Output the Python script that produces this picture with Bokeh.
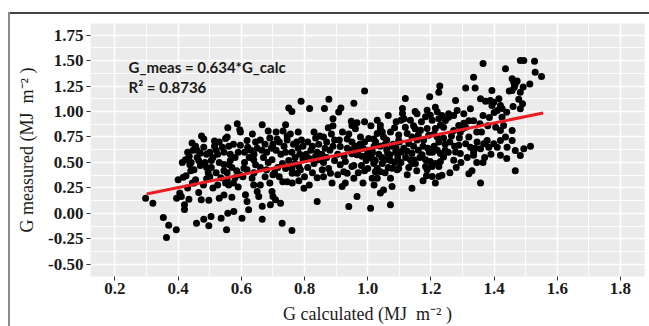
from bokeh.plotting import figure
from bokeh.models import FixedTicker, NumeralTickFormatter, Label, Range1d, Div, Spacer
from bokeh.layouts import column, row
from bokeh.embed import file_html
from bokeh.resources import INLINE

# ---- data (G calculated vs G measured, MJ m^-2) ----
g_calc = [
    0.297, 0.32, 0.353, 0.37, 0.363, 0.394, 0.395, 0.40,
    0.405, 0.41, 0.416, 0.423, 0.437, 0.441, 0.42, 0.42, 0.434, 0.444, 0.43, 0.425, 0.445, 0.435, 0.44, 0.43, 0.447, 0.413,
    0.45, 0.45, 0.455, 0.465, 0.458, 0.481, 0.497, 0.473, 0.497, 0.474, 0.481, 0.49, 0.481, 0.46, 0.47, 0.49, 0.485, 0.47, 0.46, 0.495, 0.49, 0.48, 0.455, 0.465, 0.50, 0.50,
    0.504, 0.53, 0.545, 0.536, 0.51, 0.52, 0.515, 0.53, 0.525, 0.54, 0.545, 0.505, 0.52, 0.535, 0.55, 0.51, 0.525, 0.545, 0.55, 0.515, 0.505, 0.53, 0.545,
    0.557, 0.553, 0.576, 0.557, 0.587, 0.595, 0.555, 0.56, 0.575, 0.597, 0.565, 0.58, 0.59, 0.56, 0.57, 0.585, 0.595, 0.555, 0.575, 0.56, 0.59, 0.58, 0.597, 0.565, 0.555, 0.57,
    0.602, 0.608, 0.618, 0.634, 0.639, 0.65, 0.655, 0.613, 0.618, 0.623, 0.618, 0.639, 0.645, 0.62, 0.61, 0.63, 0.64, 0.625, 0.61, 0.645, 0.635, 0.65, 0.605, 0.64,
    0.666, 0.685, 0.697, 0.70, 0.692, 0.666, 0.666, 0.68, 0.697, 0.70, 0.66, 0.675, 0.69, 0.665, 0.68, 0.695, 0.67, 0.685, 0.66, 0.675, 0.69, 0.66, 0.70,
    0.708, 0.724, 0.729, 0.731, 0.745, 0.713, 0.74, 0.732, 0.73, 0.75, 0.75, 0.72, 0.735, 0.745, 0.71, 0.725, 0.74, 0.715, 0.705, 0.74, 0.72, 0.745, 0.71,
    0.76, 0.761, 0.782, 0.761, 0.777, 0.787, 0.782, 0.77, 0.798, 0.76, 0.789, 0.775, 0.765, 0.79, 0.78, 0.795, 0.76, 0.785, 0.77, 0.795, 0.755, 0.78, 0.76,
    0.816, 0.84, 0.845, 0.83, 0.815, 0.81, 0.825, 0.835, 0.82, 0.84, 0.805, 0.83, 0.845, 0.81, 0.825, 0.84, 0.80, 0.815, 0.835, 0.848,
    0.863, 0.877, 0.89, 0.856, 0.882, 0.887, 0.876, 0.86, 0.87, 0.885, 0.895, 0.865, 0.88, 0.89, 0.855, 0.87, 0.895, 0.86, 0.875, 0.89, 0.86,
    0.905, 0.915, 0.908, 0.948, 0.935, 0.95, 0.913, 0.935, 0.95, 0.913, 0.929, 0.924, 0.935, 0.919, 0.929, 0.95, 0.94, 0.95, 0.95, 0.92, 0.94, 0.905, 0.925, 0.91,
    0.956, 0.99, 0.966, 0.961, 0.99, 0.966, 0.982, 0.998, 0.956, 0.966, 0.956, 0.98, 0.977, 0.96, 0.975, 0.99, 0.97, 0.985, 0.995, 0.97, 0.985, 0.99,
    1.003, 1.03, 1.04, 1.046, 1.03, 1.02, 1.04, 1.014, 1.019, 1.03, 1.04, 1.024, 1.046, 1.009, 1.014, 1.03, 1.05, 1.04, 1.04, 1.019, 1.009, 1.024, 1.0, 1.015, 1.035, 1.01, 1.025, 1.045, 1.0, 1.02,
    1.05, 1.06, 1.072, 1.077, 1.098, 1.06, 1.063, 1.07, 1.056, 1.077, 1.093, 1.098, 1.072, 1.077, 1.072, 1.072, 1.088, 1.098, 1.08, 1.09, 1.055, 1.085, 1.095, 1.065, 1.085, 1.055, 1.09, 1.065,
    1.119, 1.11, 1.11, 1.115, 1.135, 1.105, 1.10, 1.125, 1.14, 1.13, 1.114, 1.125, 1.14, 1.146, 1.135, 1.125, 1.14, 1.14, 1.119, 1.12, 1.105, 1.145, 1.13, 1.105, 1.145,
    1.15, 1.151, 1.15, 1.156, 1.188, 1.198, 1.183, 1.167, 1.193, 1.177, 1.16, 1.196, 1.188, 1.172, 1.183, 1.198, 1.183, 1.188, 1.186, 1.156, 1.16, 1.175, 1.19, 1.165, 1.195, 1.17, 1.155, 1.175,
    1.204, 1.22, 1.225, 1.23, 1.214, 1.22, 1.204, 1.214, 1.225, 1.23, 1.204, 1.214, 1.225, 1.225, 1.228, 1.214, 1.235, 1.246, 1.24, 1.23, 1.24, 1.235, 1.21, 1.225, 1.245, 1.205, 1.22, 1.24, 1.245, 1.21,
    1.256, 1.272, 1.283, 1.288, 1.293, 1.278, 1.272, 1.30, 1.278, 1.272, 1.288, 1.293, 1.26, 1.275, 1.255, 1.29, 1.265, 1.28, 1.26, 1.295, 1.256,
    1.304, 1.304, 1.32, 1.335, 1.31, 1.32, 1.325, 1.31, 1.34, 1.346, 1.32, 1.33, 1.335, 1.335, 1.325, 1.31, 1.34, 1.335, 1.345, 1.315, 1.345,
    1.365, 1.357, 1.373, 1.388, 1.399, 1.393, 1.365, 1.393, 1.357, 1.365, 1.357, 1.367, 1.378, 1.383, 1.399, 1.36, 1.38, 1.37, 1.39, 1.355, 1.385,
    1.436, 1.415, 1.42, 1.41, 1.425, 1.44, 1.405, 1.42, 1.41, 1.42, 1.436, 1.441, 1.43, 1.425, 1.448, 1.42, 1.44, 1.40,
    1.483, 1.494, 1.457, 1.462, 1.467, 1.473, 1.464, 1.457, 1.483, 1.478, 1.49, 1.46, 1.483, 1.492, 1.457, 1.457, 1.467, 1.483, 1.494, 1.467,
    1.528, 1.53, 1.55, 1.513, 1.515,
]
g_meas = [
    0.15, 0.10, -0.04, -0.115, -0.235, -0.16, 0.15, 0.33,
    0.20, 0.167, 0.356, 0.526, 0.477, 0.50, 0.085, 0.04, 0.14, 0.69, 0.60, 0.37, 0.30, 0.56, 0.42, 0.25, 0.62, 0.50,
    0.43, 0.30, 0.33, 0.205, -0.095, -0.056, -0.12, 0.135, 0.13, 0.76, 0.73, 0.45, 0.65, 0.55, 0.59, 0.58, 0.50, 0.47, 0.62, 0.40, 0.34, 0.28, 0.66, 0.52, 0.60, 0.36,
    -0.03, 0.15, 0.18, -0.046, 0.55, 0.62, 0.66, 0.70, 0.58, 0.65, 0.48, 0.45, 0.40, 0.35, 0.30, 0.25, 0.28, 0.42, 0.735, 0.71, 0.52, 0.50, 0.60,
    0.003, -0.16, 0.02, 0.84, 0.88, 0.82, 0.75, 0.66, 0.68, 0.67, 0.58, 0.55, 0.60, 0.48, 0.45, 0.42, 0.38, 0.40, 0.30, 0.28, 0.26, 0.35, 0.80, 0.52, 0.33, 0.16,
    -0.046, 0.444, 0.43, 0.346, 0.28, 0.215, 0.167, 0.183, 0.118, 0.036, 0.715, 0.526, 0.477, 0.65, 0.60, 0.62, 0.58, 0.55, 0.50, 0.70, 0.78, 0.64, 0.36, 0.40,
    0.87, 0.81, 0.215, 0.167, 0.085, 0.07, -0.056, 0.43, 0.526, 0.38, 0.72, 0.68, 0.74, 0.62, 0.60, 0.64, 0.55, 0.50, 0.45, 0.36, 0.30, 0.28, 0.68,
    0.134, 0.10, -0.095, 0.31, 0.31, 0.73, 0.87, 0.81, 0.49, 0.52, 1.035, 0.70, 0.66, 0.72, 0.62, 0.58, 0.60, 0.45, 0.40, 0.44, 0.36, 0.76, 0.80,
    -0.167, 0.30, 0.32, 0.395, 0.395, 0.43, 0.46, 0.49, 0.248, 1.0, 1.10, 0.70, 0.68, 0.72, 0.64, 0.66, 0.60, 0.58, 0.55, 0.53, 0.78, 0.80, 0.44,
    1.03, 0.118, 0.526, 0.49, 0.54, 0.70, 0.66, 0.74, 0.62, 0.60, 0.58, 0.80, 0.68, 0.45, 0.40, 0.35, 0.36, 0.28, 0.56, 0.76,
    1.03, 1.12, 0.93, 0.43, 0.395, 0.30, 0.44, 0.75, 0.70, 0.78, 0.72, 0.64, 0.62, 0.66, 0.58, 0.55, 0.52, 0.50, 0.84, 0.86, 0.36,
    0.38, 1.035, 0.995, 0.905, 0.73, 0.70, 0.657, 0.64, 0.625, 0.477, 0.51, 0.41, 0.395, 0.265, 0.30, 0.46, 0.069, 0.585, 0.863, 0.80, 0.78, 0.58, 0.56, 0.72,
    1.08, 1.2, 0.89, 0.83, 0.90, 0.575, 0.56, 0.575, 0.346, 0.167, 0.47, 0.47, 0.75, 0.66, 0.68, 0.70, 0.62, 0.64, 0.52, 0.40, 0.30, 0.42,
    0.735, 0.915, 0.866, 0.80, 0.785, 0.66, 0.66, 0.54, 0.49, 0.444, 0.41, 0.41, 0.49, 0.052, 0.346, 0.346, 0.23, 0.20, 0.83, 0.73, 0.569, 0.52, 0.62, 0.60, 0.58, 0.86, 0.70, 0.55, 0.44, 0.28,
    0.75, 0.72, 0.80, 0.66, 0.77, 0.624, 0.59, 0.575, 0.526, 0.444, 0.43, 0.444, 0.346, 0.265, 0.085, 0.52, 0.60, 0.716, 0.68, 0.64, 0.68, 0.84, 0.55, 0.45, 0.50, 0.40, 0.90, 0.96,
    1.127, 1.03, 0.98, 0.93, 0.915, 0.915, 0.70, 0.785, 0.75, 0.686, 0.64, 0.61, 0.59, 0.526, 0.526, 0.38, 0.248, 0.49, 0.846, 0.55, 0.60, 0.66, 0.45, 0.50, 0.86,
    1.0, 0.49, 0.83, 0.72, 1.013, 0.964, 0.948, 0.816, 0.768, 0.72, 0.77, 1.144, 0.833, 0.575, 0.526, 0.51, 0.46, 0.43, 0.37, 0.977, 0.62, 0.66, 0.64, 0.55, 0.60, 0.90, 0.42, 0.32,
    0.915, 0.997, 0.93, 0.866, 0.833, 0.75, 0.46, 0.49, 0.46, 0.51, 0.363, 0.30, 0.363, 1.19, 1.25, 1.042, 0.96, 0.912, 0.846, 0.588, 0.555, 0.376, 0.66, 0.70, 0.68, 0.60, 0.62, 0.74, 0.62, 0.78,
    0.944, 0.96, 1.01, 0.863, 0.797, 1.108, 0.814, 0.83, 0.604, 0.523, 0.67, 0.588, 0.70, 0.66, 0.60, 0.74, 0.76, 0.45, 0.40, 0.50, 0.977,
    0.977, 0.885, 0.91, 0.91, 0.846, 0.75, 0.65, 0.683, 0.64, 0.70, 0.39, 0.42, 0.605, 0.572, 1.026, 1.23, 1.23, 1.337, 0.80, 0.55, 0.50,
    1.47, 1.125, 1.10, 1.108, 1.09, 1.06, 0.96, 1.206, 0.30, 0.50, 0.634, 0.683, 0.716, 0.65, 0.683, 0.80, 0.86, 0.55, 0.58, 0.88, 0.94,
    1.42, 1.125, 1.06, 1.01, 1.03, 0.993, 0.846, 0.814, 0.65, 0.716, 0.75, 0.65, 0.863, 0.944, 1.2, 0.57, 0.54, 0.99,
    1.50, 1.50, 1.32, 1.29, 1.27, 1.30, 1.24, 1.206, 1.19, 1.12, 1.075, 1.05, 1.026, 1.24, 0.814, 0.716, 0.618, 0.569, 0.634, 0.418,
    1.493, 1.385, 1.343, 1.27, 0.66,
]

# regression line shown in the chart
fit_slope = 0.634
fit_r2 = 0.8736
fit_x = [0.30, 1.555]
fit_y = [fit_slope * v for v in fit_x]

x_ticks = [0.2, 0.4, 0.6, 0.8, 1.0, 1.2, 1.4, 1.6, 1.8]
x_minor = [0.1, 0.3, 0.5, 0.7, 0.9, 1.1, 1.3, 1.5, 1.7, 1.9]
y_ticks = [-0.5, -0.25, 0.0, 0.25, 0.5, 0.75, 1.0, 1.25, 1.5, 1.75]
y_minor = [-0.625, -0.375, -0.125, 0.125, 0.375, 0.625, 0.875, 1.125, 1.375, 1.625, 1.875]

eq_text = "G_meas = 0.634*G_calc"
r2_text = "R\u00b2 = 0.8736"
x_label = "G calculated (MJ\u00a0 m\u207b\u00b2 )"
y_label = "G measured (MJ\u00a0 m\u207b\u00b2 )"

p = figure(width=639, height=312,
           x_range=Range1d(0.1225, 1.876), y_range=Range1d(-0.618, 1.863),
           output_backend="svg", toolbar_location=None,
           min_border_left=80, min_border_right=5, min_border_top=9, min_border_bottom=50,
           background_fill_color="#EBEBEB", border_fill_color="white",
           outline_line_color=None, margin=0)

p.xaxis.ticker = FixedTicker(ticks=x_ticks, minor_ticks=x_minor)
p.yaxis.ticker = FixedTicker(ticks=y_ticks, minor_ticks=y_minor)
p.xaxis.formatter = NumeralTickFormatter(format="0.0")
p.yaxis.formatter = NumeralTickFormatter(format="0.00")
p.xgrid.ticker = p.xaxis.ticker
p.ygrid.ticker = p.yaxis.ticker

for g in (p.xgrid, p.ygrid):
    g.grid_line_color = "white"
    g.grid_line_width = 1.5
    g.minor_grid_line_color = "white"
    g.minor_grid_line_width = 0.9

for ax in (p.xaxis, p.yaxis):
    ax.axis_line_color = None
    ax.major_tick_line_color = "#333333"
    ax.major_tick_in = 0
    ax.major_tick_out = 4
    ax.minor_tick_line_color = None
    ax.major_label_text_font = "Liberation Serif"
    ax.major_label_text_font_style = "bold"
    ax.major_label_text_font_size = "17px"
    ax.major_label_text_color = "#1a1a1a"
    ax.axis_label_text_font = "Liberation Serif"
    ax.axis_label_text_font_style = "normal"
    ax.axis_label_text_font_size = "18px"
    ax.axis_label_text_color = "#1a1a1a"

p.xaxis.major_label_standoff = 2
p.yaxis.major_label_standoff = 3
p.xaxis.axis_label = x_label
p.yaxis.axis_label = y_label
p.xaxis.axis_label_standoff = 7
p.yaxis.axis_label_standoff = 8

p.scatter(g_calc, g_meas, size=7, fill_color="black", line_color=None)
p.line(fit_x, fit_y, line_color="#EE1D23", line_width=3)

p.add_layout(Label(x=0.243, y=1.434, text=eq_text, text_font="Lato", text_font_style="bold",
                   text_font_size="15px", text_baseline="middle", text_color="#1a1a1a"))
p.add_layout(Label(x=0.243, y=1.245, text=r2_text, text_font="Lato", text_font_style="bold",
                   text_font_size="15px", text_baseline="middle", text_color="#1a1a1a"))

# thin frame around the picture: top and left edges are visible in the reference
top_line = Div(text="", width=639, height=2, margin=0, styles={"background-color": "#444444"})
left_line = Div(text="", width=2, height=314, margin=0, styles={"background-color": "#8a8a8a"})
layout = column(
    Spacer(width=649, height=12, margin=0),
    row(Spacer(width=8, height=314, margin=0), left_line, column(top_line, p, spacing=0, margin=0),
        spacing=0, margin=0),
    spacing=0, margin=0,
)

open("out.html", "w").write(file_html(layout, INLINE))
